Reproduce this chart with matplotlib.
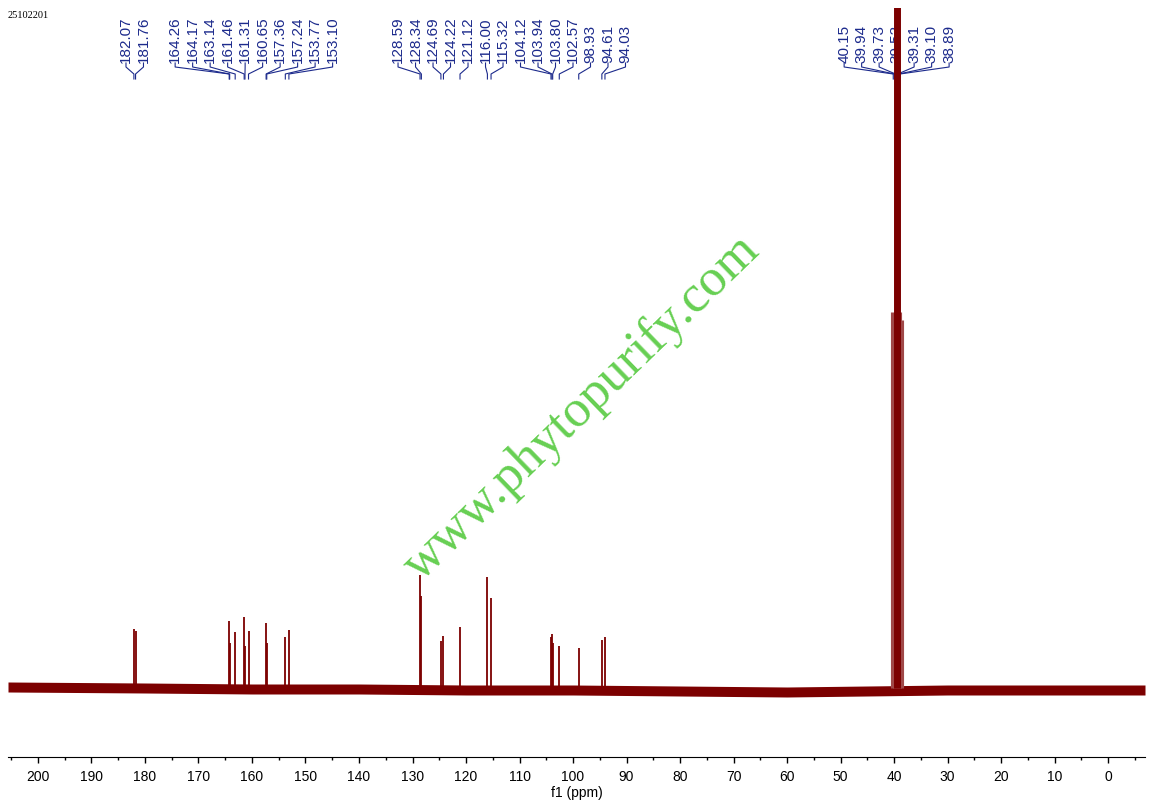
import numpy as np
import matplotlib.pyplot as plt
import matplotlib.transforms as mtransforms

# 13C peak list (ppm) and peak heights (baseline = 0)
peak_ppm = [182.07, 181.76, 164.26, 164.17, 163.14, 161.46, 161.31, 160.65,
            157.36, 157.24, 153.77, 153.10, 128.59, 128.34, 124.69, 124.22,
            121.12, 116.00, 115.32, 104.12, 103.94, 103.80, 102.57, 98.93,
            94.61, 94.03]
peak_height = [59, 57, 67, 45, 56, 71, 42, 57,
               65, 45, 51, 58, 113, 92, 47, 52,
               61, 111, 90, 51, 54, 45, 42, 40,
               48, 51]

# DMSO-d6 solvent septet
dmso_ppm = [40.15, 39.94, 39.73, 39.52, 39.31, 39.10, 38.89]
dmso_height = [28, 200, 376, 900, 368, 145, 25]

# slow baseline drift
baseline_ppm = [205.6, 180, 160, 140, 120, 100, 80, 60, 45, 30, 10, -6.9]
baseline_level = [1, 0, -1, -1, -2, -2, -3, -4, -3, -2, -2, -2]

sample_id = "25102201"
xticks = list(range(200, -1, -10))

red = "#7c0000"
blue = "#1c2a8c"

fig = plt.figure(figsize=(11.55, 8.05), dpi=100)
ax = fig.add_axes([8 / 1155, 48 / 805, 1137 / 1155, 749 / 805])
ax.set_xlim(205.6, -6.9)
ax.set_ylim(-69, 680)

# noisy baseline shown as a band
ax.fill_between(baseline_ppm, np.array(baseline_level) - 5,
                np.array(baseline_level) + 5, color=red, lw=0, zorder=3)

# peaks
ax.vlines(peak_ppm, 0, peak_height, color=red, lw=1.3, zorder=4)
ax.vlines(dmso_ppm, 0, dmso_height, color=red, lw=2.0, zorder=4)
# broadened solvent lines: wide pale shoulders and a thick centre column
ax.vlines([dmso_ppm[2], dmso_ppm[4]], 0, [dmso_height[2], dmso_height[4]],
          color="#a04848", lw=8, zorder=4)
ax.vlines([dmso_ppm[3]], 0, [dmso_height[3]], color=red, lw=5, zorder=5)

# axis styling
for s in ["left", "right", "top"]:
    ax.spines[s].set_visible(False)
ax.set_yticks([])
ax.set_xticks(xticks)
ax.set_xticks(np.arange(205, -6, -5), minor=True)
ax.tick_params(axis="x", which="major", length=4.5, width=1, pad=5,
               labelsize=10)
ax.tick_params(axis="x", which="minor", length=2.5, width=1)
for lab in ax.get_xticklabels():
    lab.set_fontfamily("Liberation Sans")
ax.set_xlabel("f1 (ppm)", fontsize=10, family="Liberation Sans", labelpad=1)

# spread the peak labels so they do not overlap
all_ppm = sorted(peak_ppm + dmso_ppm, reverse=True)
step = 3.27
groups = [[p] for p in all_ppm]
merged = True
while merged:
    merged = False
    for i in range(len(groups) - 1):
        a, b = groups[i], groups[i + 1]
        ca, cb = np.mean(a), np.mean(b)
        low_a = ca - (len(a) - 1) * step / 2
        high_b = cb + (len(b) - 1) * step / 2
        if low_a - high_b < step:
            groups[i] = a + b
            del groups[i + 1]
            merged = True
            break

trans = mtransforms.blended_transform_factory(ax.transData, fig.transFigure)
y_text = 1 - 63 / 805
y1 = 1 - 67 / 805
y2 = 1 - 74 / 805
y3 = 1 - 79 / 805
for g in groups:
    c = np.mean(g)
    n = len(g)
    for k, p in enumerate(g):
        lx = c + (n - 1) * step / 2 - k * step
        ax.text(lx, y_text, f"{p:.2f}", transform=trans, rotation=90,
                ha="center", va="bottom", fontsize=11, color=blue,
                family="Liberation Sans", clip_on=False, zorder=2)
        ax.plot([lx, lx, p, p], [y_text, y1, y2, y3], transform=trans,
                color=blue, lw=0.8, clip_on=False, zorder=2)

fig.text(8 / 1155, 1 - 16 / 805, sample_id, fontsize=7.5,
         family="Liberation Serif", va="center", ha="left")

fig.text(582 / 1155, 1 - 408 / 805, "www.phytopurify.com", rotation=44,
         ha="center", va="center", fontsize=38, family="Liberation Serif",
         color="#66cf52", rotation_mode="anchor")

fig.savefig("out.png", dpi=100)
